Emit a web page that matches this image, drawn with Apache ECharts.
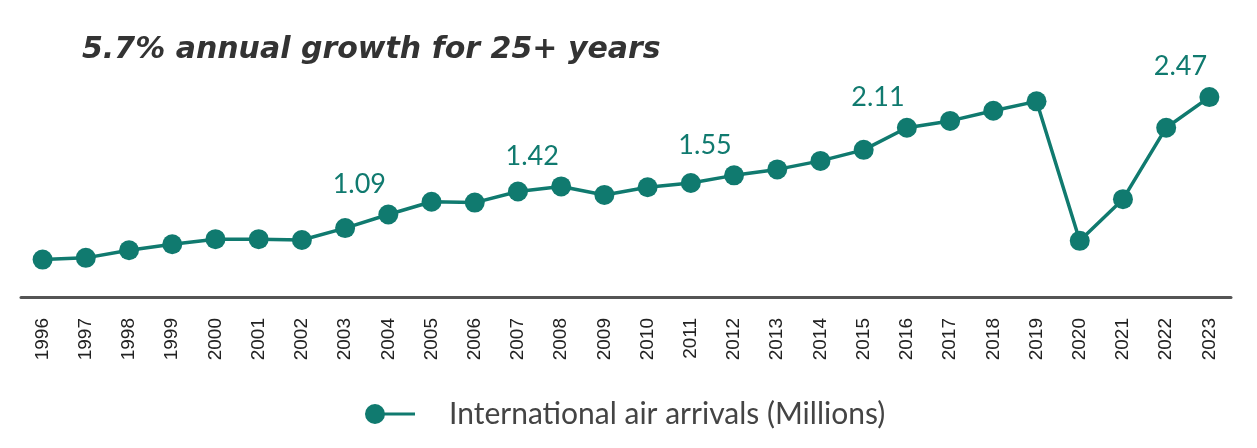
<!DOCTYPE html>
<html>
<head>
<meta charset="utf-8">
<script src="https://cdn.jsdelivr.net/npm/echarts@6/dist/echarts.min.js"></script>
<style>
html,body{margin:0;padding:0;background:#fff;}
#chart{width:1257px;height:448px;}
</style>
</head>
<body>
<div id="chart"></div>
<script>
// ---- data ----
const years = ['1996','1997','1998','1999','2000','2001','2002','2003','2004','2005','2006','2007','2008','2009','2010','2011','2012','2013','2014','2015','2016','2017','2018','2019','2020','2021','2022','2023'];
const arrivals = [0.56,0.58,0.67,0.74,0.80,0.80,0.79,0.93,1.09,1.24,1.23,1.36,1.42,1.32,1.41,1.46,1.55,1.62,1.72,1.85,2.11,2.19,2.31,2.42,0.78,1.27,2.11,2.47];
const labelledYears = ['2004','2008','2012','2016','2023'];
const seriesName = 'International air arrivals (Millions)';
const titleText = '5.7% annual growth for 25+ years';

const teal = '#107a6f';
const seriesData = arrivals.map((v, i) => ({
  value: v,
  label: { show: labelledYears.includes(years[i]) }
}));

const chart = echarts.init(document.getElementById('chart'));
chart.setOption({
  animation: false,
  backgroundColor: '#fff',
  title: {
    text: titleText,
    left: 77, top: 30,
    textStyle: { fontFamily: 'DejaVu Sans', fontStyle: 'italic', fontWeight: 'bold', fontSize: 30, color: '#333' }
  },
  legend: {
    left: 360, top: 394,
    itemWidth: 50, itemHeight: 20,
    icon: 'path://M0,10 A10,10 0 1,1 20,10 A10,10 0 1,1 0,10 Z M18,8.5 L50,8.5 L50,11.5 L18,11.5 Z',
    textStyle: { fontFamily: 'Lato', fontSize: 30, color: '#444', padding: [0,0,0,29] },
    data: [{ name: seriesName, itemStyle: { color: teal } }]
  },
  grid: { left: 21, right: 26, top: 52, bottom: 151, containLabel: false },
  xAxis: {
    type: 'category', data: years, boundaryGap: true,
    axisLine: { lineStyle: { color: '#555', width: 3 } },
    axisTick: { show: false },
    axisLabel: { rotate: 90, margin: 21, fontFamily: 'Liberation Sans', fontSize: 19, color: '#222', interval: 0 }
  },
  yAxis: { type: 'value', min: 0.12, max: 3.0, show: false, splitLine: { show: false } },
  series: [{
    name: seriesName, type: 'line', data: seriesData,
    symbol: 'circle', symbolSize: 20,
    lineStyle: { color: teal, width: 3.5 },
    itemStyle: { color: teal },
    label: {
      position: 'top', distance: 5, offset: [-29, -2],
      fontFamily: 'Lato', fontSize: 27, color: teal,
      formatter: p => p.value.toFixed(2)
    }
  }]
});
</script>
</body>
</html>
